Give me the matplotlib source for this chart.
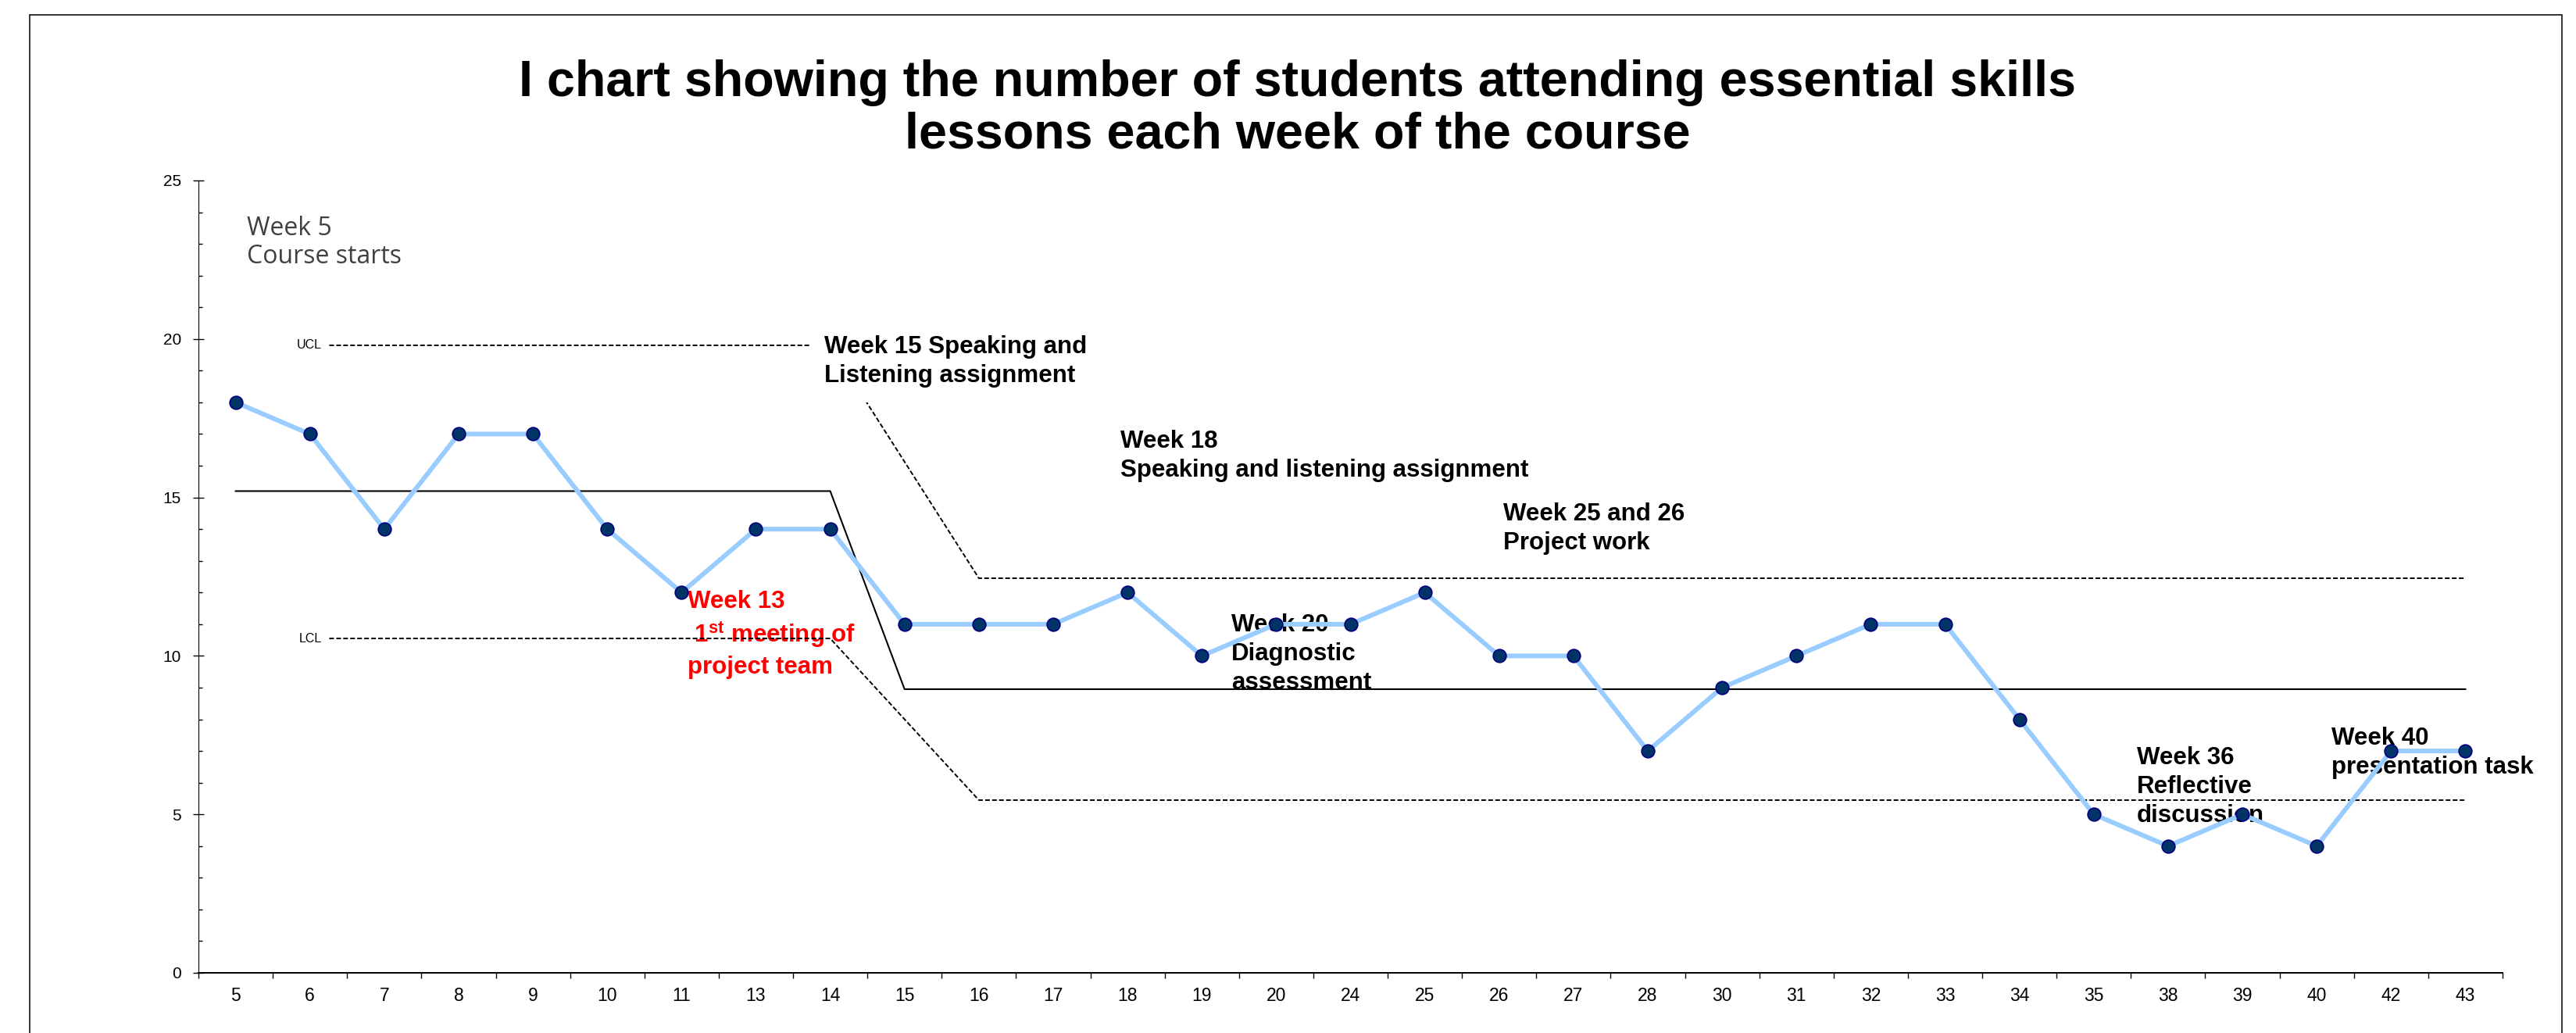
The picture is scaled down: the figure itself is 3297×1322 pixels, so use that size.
import numpy as np
import matplotlib.pyplot as plt
from matplotlib.patches import Rectangle

plt.rcParams['font.family'] = ['Liberation Sans', 'DejaVu Sans']
# mathtext only used for the "1st" superscript, keep it in the bold sans
plt.rcParams['mathtext.fontset'] = 'custom'
plt.rcParams['mathtext.rm'] = 'Liberation Sans:bold'
plt.rcParams['mathtext.it'] = 'Liberation Sans:bold'
plt.rcParams['mathtext.bf'] = 'Liberation Sans:bold'

# data
weeks = ['5', '6', '7', '8', '9', '10', '11', '13', '14', '15', '16', '17', '18',
         '19', '20', '24', '25', '26', '27', '28', '30', '31', '32', '33', '34',
         '35', '38', '39', '40', '42', '43']
students = [18, 17, 14, 17, 17, 14, 12, 14, 14, 11, 11, 11, 12, 10, 11, 11, 12,
            10, 10, 7, 9, 10, 11, 11, 8, 5, 4, 5, 4, 7, 7]

# centre line and control limits (x = category position)
mean_x = [0, 8, 9, 30]
mean_y = [15.2, 15.2, 8.95, 8.95]
limit_x = [1.26, 8, 10, 30]
ucl_y = [19.8, 19.8, 12.45, 12.45]
lcl_y = [10.55, 10.55, 5.45, 5.45]

title = ('I chart showing the number of students attending essential skills\n'
         'lessons each week of the course')

# (text, x, baseline of last line, colour)
notes = [
    ('Week 18\nSpeaking and listening assignment', 11.90, 15.66, 'black'),
    ('Week 25 and 26\nProject work', 17.06, 13.36, 'black'),
    ('Week 20\nDiagnostic\nassessment', 13.40, 8.96, 'black'),
    ('Week 13\n 1$^{st}$ meeting of\nproject team', 6.08, 9.45, '#FF0000'),
    ('Week 36\nReflective\ndiscussion', 25.58, 4.76, 'black'),
    ('Week 40\npresentation task', 28.20, 6.29, 'black'),
]

W, H = 3298, 1322
fig = plt.figure(figsize=(W / 100, H / 100), dpi=100)
ax = fig.add_axes([254 / W, 77 / H, (3203 - 254) / W, (1245 - 231) / H])

x = np.arange(len(weeks))

dash = (0, (3.1, 1.5))
ax.plot(mean_x, mean_y, color='black', lw=1.5, zorder=2)
ax.plot(limit_x, ucl_y, color='black', lw=1.4, ls=dash, zorder=2)
ax.plot(limit_x, lcl_y, color='black', lw=1.4, ls=dash, zorder=2)
ax.plot(x, students, color='#99CCFF', lw=4.3, marker='o', ms=12,
        mfc='#003366', mec='#000080', mew=1.2, zorder=4)

ax.text(1.16, ucl_y[0], 'UCL', ha='right', va='center', fontsize=11.5)
ax.text(1.16, lcl_y[0], 'LCL', ha='right', va='center', fontsize=11.5)

ax.text(0.15, 22.39, 'Week 5\nCourse starts', fontsize=23, color='#404040',
        family=['Open Sans', 'DejaVu Sans'], va='baseline', linespacing=1.12)

# this one sits in a white box that hides the step of the UCL line
ax.text(7.92, 18.64, 'Week 15 Speaking and\nListening assignment', fontsize=22.5,
        fontweight='bold', va='baseline', linespacing=1.3, zorder=6,
        bbox=dict(boxstyle='square,pad=0.6', facecolor='white', edgecolor='none'))
for txt, tx, ty, col in notes:
    ax.text(tx, ty, txt, fontsize=22.5, fontweight='bold', color=col,
            va='baseline', linespacing=1.3, zorder=1)

ax.set_xlim(-0.5, len(weeks) - 0.5)
ax.set_ylim(0, 25)
ax.set_xticks(x)
ax.set_xticklabels(weeks, fontsize=16.5)
ax.set_xticks(np.arange(-0.5, len(weeks)), minor=True)
ax.tick_params(axis='x', which='major', length=0, pad=13)
ax.tick_params(axis='x', which='minor', length=5, width=1, direction='out')
ax.set_yticks(range(0, 26, 5))
ax.set_yticks(range(0, 26), minor=True)
ax.tick_params(axis='y', which='major', direction='inout', length=10, width=1,
               labelsize=15, pad=11)
ax.tick_params(axis='y', which='minor', direction='in', length=3.6, width=1)

for s in ['top', 'right']:
    ax.spines[s].set_visible(False)
ax.spines['left'].set_linewidth(0.8)
ax.spines['bottom'].set_linewidth(1.4)

fig.text(1661 / W, 1 - 189 / H, title, ha='center', va='baseline', fontsize=46.5,
         fontweight='bold', linespacing=1.12, multialignment='center')

# frame round the whole chart (bottom edge runs off the picture)
fig.add_artist(Rectangle((38 / W, -0.05), (3279 - 38) / W, 1.05 - 19 / H,
                         transform=fig.transFigure, fill=False, lw=1.1,
                         edgecolor='black'))

fig.savefig('out.png', dpi=100)
